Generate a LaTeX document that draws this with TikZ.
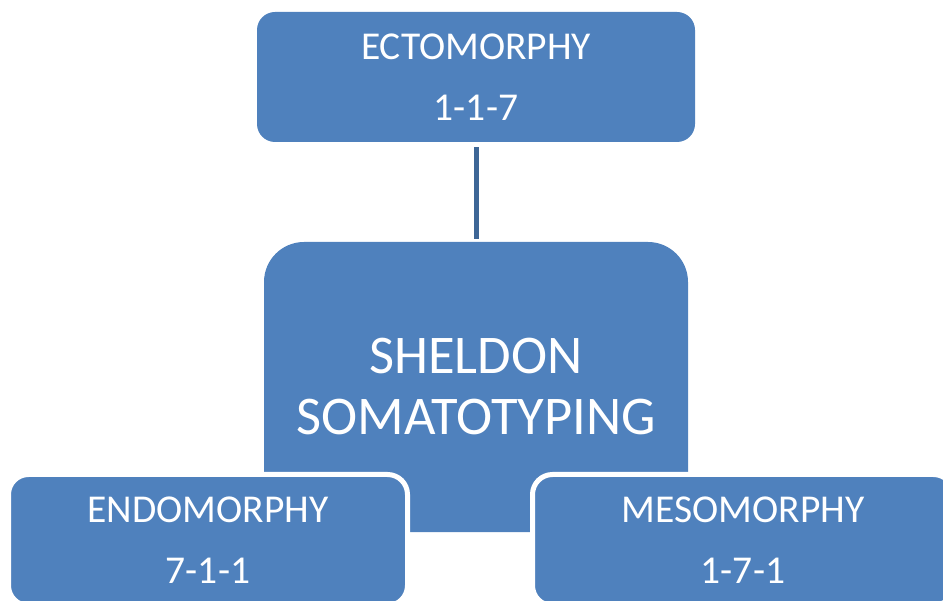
\documentclass[tikz,border=0pt]{standalone}
\usepackage{fontspec}
\setmainfont{Carlito}
\definecolor{boxblue}{HTML}{4F81BD}
\definecolor{linkblue}{HTML}{3D6696}
\tikzset{
  sbox/.style={fill=boxblue, text=white, rounded corners=18pt, inner sep=0pt,
    align=center, font=\fontsize{39.5}{61}\selectfont},
  bbox/.style={sbox, draw=white, line width=5pt, rounded corners=20pt},
  cbox/.style={fill=boxblue, rounded corners=40pt, inner sep=0pt},
  ctext/.style={text=white, inner sep=0pt, align=center, font=\fontsize{54.5}{61}\selectfont},
  link/.style={draw=linkblue, line width=5pt}
}
\begin{document}
\begin{tikzpicture}[x=1pt,y=-1pt]
\useasboundingbox (0,0) rectangle (943,601);
% top box
\node[sbox, minimum width=438pt, minimum height=130pt] (ecto) at (476,77) {ECTOMORPHY\\1-1-7};
% center box (rounded top, square bottom)
\node[cbox, minimum width=424pt, minimum height=290pt] (shel) at (476,387) {};
\fill[boxblue] (shel.west) rectangle (shel.south east);
\node[ctext] (sheltext) at (shel.center) {SHELDON\\SOMATOTYPING};
% connector
\draw[link, shorten <=5pt, shorten >=3pt] (ecto.south) -- (shel.north);
% bottom boxes
\node[bbox, minimum width=399pt, minimum height=131pt] (endo) at (208,540) {ENDOMORPHY\\7-1-1};
\node[bbox, minimum width=421pt, minimum height=131pt] (meso) at (743,540) {MESOMORPHY\\1-7-1};
\end{tikzpicture}
\end{document}
